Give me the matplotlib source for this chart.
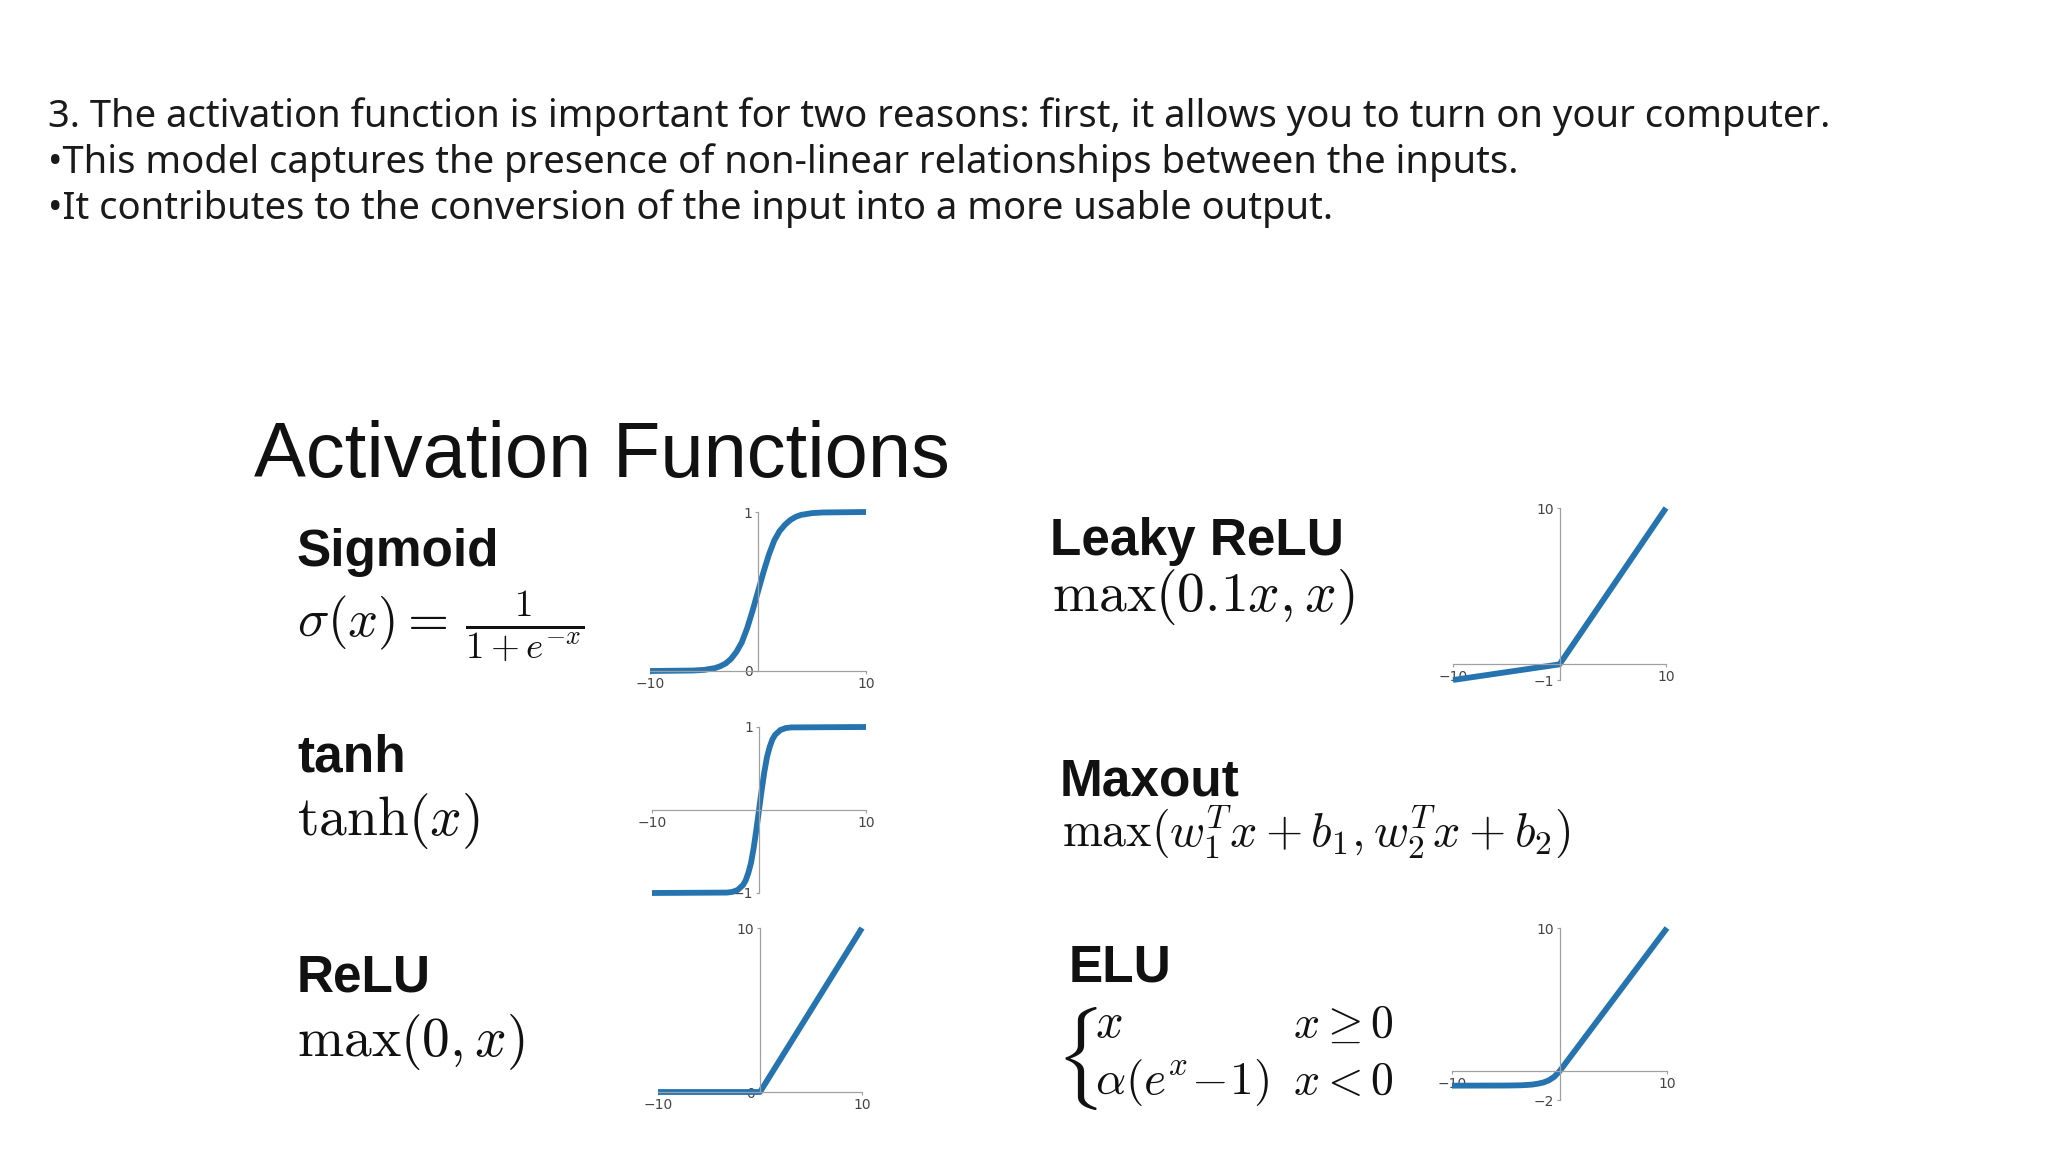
import matplotlib.pyplot as plt

W, H = 2048, 1152

# text of the slide
intro_lines = [
    '3. The activation function is important for two reasons: first, it allows you to turn on your computer.',
    '\u2022This model captures the presence of non-linear relationships between the inputs.',
    '\u2022It contributes to the conversion of the input into a more usable output.',
]
title = 'Activation Functions'

# curves
sig_x = [-10, -6, -5, -4, -3.5, -3, -2.5, -2, -1.5, -1, -0.5, 0, 0.5, 1, 1.5, 2, 2.5, 3, 3.5, 4, 5, 6, 10]
sig_y = [0.0, 0.003, 0.007, 0.018, 0.03, 0.047, 0.076, 0.12, 0.18, 0.27, 0.38, 0.5,
         0.62, 0.73, 0.82, 0.88, 0.92, 0.95, 0.97, 0.982, 0.993, 0.997, 1.0]

tanh_x = [-10, -3, -2.5, -2, -1.5, -1.25, -1, -0.75, -0.5, -0.25, 0,
          0.25, 0.5, 0.75, 1, 1.25, 1.5, 2, 2.5, 3, 10]
tanh_y = [-1.0, -0.995, -0.987, -0.964, -0.905, -0.85, -0.76, -0.64, -0.46, -0.24, 0.0,
          0.24, 0.46, 0.64, 0.76, 0.85, 0.905, 0.964, 0.987, 0.995, 1.0]

relu_x = [-10, 0, 10]
relu_y = [0, 0, 10]

leaky_x = [-10, 0, 10]
leaky_y = [-1, 0, 10]

elu_x = [-10, -5, -4, -3.5, -3, -2.5, -2, -1.5, -1, -0.5, 0, 10]
elu_y = [-1.0, -0.99, -0.98, -0.97, -0.95, -0.92, -0.86, -0.78, -0.63, -0.39, 0, 10]

plt.rcParams['mathtext.fontset'] = 'cm'

fig = plt.figure(figsize=(W / 100, H / 100), dpi=100)


def put(x, y, s, **kw):
    # x, y in pixels from the top-left corner
    fig.text(x / W, 1 - y / H, s, **kw)


for i, line in enumerate(intro_lines):
    put(48, 127 + 46 * i, line, family='Noto Sans', fontsize=27.5, color='#1a1a1a', va='baseline')

put(254, 477, title, family='Liberation Sans', fontsize=56, color='#111111', va='baseline')

name_kw = dict(family='Liberation Sans', fontweight='bold', fontsize=37, color='#111111', va='baseline')
math_kw = dict(fontsize=40, color='#111111', va='baseline')

put(297, 566, 'Sigmoid', **name_kw)
put(297, 636, r'$\sigma(x) =\, \frac{1}{1+e^{-x}}$', fontsize=38, color='#111111', va='baseline')
put(297, 772, 'tanh', **name_kw)
put(297, 835, r'$\tanh(x)$', **math_kw)
put(297, 991, 'ReLU', **name_kw)
put(297, 1056, r'$\max(0, x)$', **math_kw)

put(1050, 555, 'Leaky ReLU', **name_kw)
put(1052, 611, r'$\max(0.1x, x)$', **math_kw)
put(1060, 795, 'Maxout', **name_kw)
put(1062, 846, r'$\max(w_1^T x + b_1, w_2^T x + b_2)$', fontsize=34.5, color='#111111', va='baseline')
put(1069, 981, 'ELU', **name_kw)
put(1055, 1058, r'$\{$', fontsize=62, color='#111111', va='center')
put(1095, 1037, r'$x$', fontsize=35, color='#111111', va='baseline')
put(1095, 1094, r'$\alpha(e^x\!-\!1)$', fontsize=34, color='#111111', va='baseline')
put(1293, 1037, r'$x \geq 0$', fontsize=33, color='#111111', va='baseline')
put(1293, 1094, r'$x < 0$', fontsize=33, color='#111111', va='baseline')


def small_plot(px, xs, ys, ylim, yticks):
    x0, x1, y0, y1 = px
    ax = fig.add_axes([x0 / W, 1 - y1 / H, (x1 - x0) / W, (y1 - y0) / H])
    ax.plot(xs, ys, color='#2574b0', linewidth=4.2, clip_on=False, solid_capstyle='butt')
    ax.set_xlim(-10, 10)
    ax.set_ylim(*ylim)
    ax.spines['left'].set_position(('data', 0))
    ax.spines['bottom'].set_position(('data', 0))
    ax.spines['right'].set_visible(False)
    ax.spines['top'].set_visible(False)
    for s in ('left', 'bottom'):
        ax.spines[s].set_color('#a0a0a0')
        ax.spines[s].set_linewidth(0.9)
    ax.set_xticks([-10, 10])
    ax.set_yticks(yticks)
    ax.tick_params(length=2.5, width=0.8, color='#a0a0a0', labelsize=10,
                   labelcolor='#444444', pad=1.5)
    ax.patch.set_alpha(0)


small_plot((650, 866, 512, 671), sig_x, sig_y, (0, 1), [0, 1])
small_plot((652, 866, 727, 893), tanh_x, tanh_y, (-1, 1), [-1, 1])
small_plot((658, 862, 928, 1092), relu_x, relu_y, (0, 10), [0, 10])
small_plot((1453, 1666, 508, 680), leaky_x, leaky_y, (-1, 10), [-1, 10])
small_plot((1452, 1667, 928, 1100), elu_x, elu_y, (-2, 10), [-2, 10])

plt.savefig('out.png', dpi=100)
